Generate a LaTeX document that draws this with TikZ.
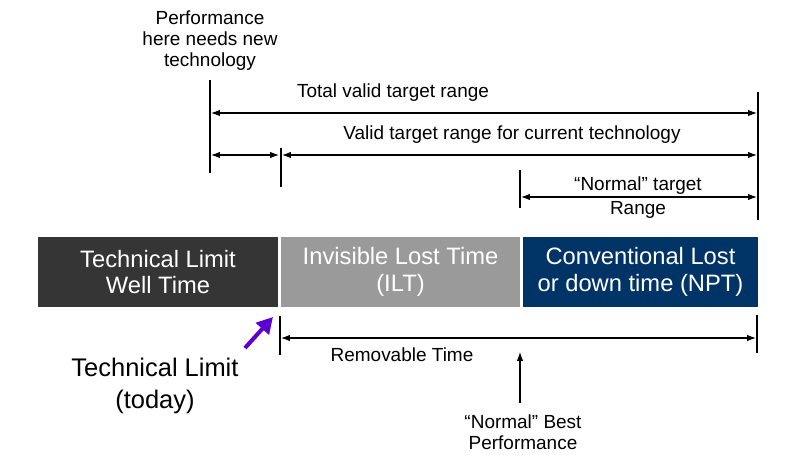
\documentclass[tikz,border=0pt]{standalone}
\usepackage{fontspec}
\setmainfont{Liberation Sans}
\usepackage{tikz}
\usetikzlibrary{positioning,arrows.meta}
\usepackage{xcolor}
\definecolor{welldark}{HTML}{353535}
\definecolor{iltgrey}{HTML}{9A9A9A}
\definecolor{nptblue}{HTML}{003466}
\definecolor{limitpurple}{HTML}{5A00D2}

\begin{document}
\begin{tikzpicture}[
  x=0.02cm, y=-0.02cm,
  bar/.style={rectangle, minimum height=1.4cm, inner sep=0pt, align=center, text=white, font=\fontsize{13.5}{15.3}\selectfont},
  lbl/.style={font=\fontsize{10.8}{12}\selectfont, align=center, inner sep=1pt},
  big/.style={font=\fontsize{14.5}{18}\selectfont, align=center, inner sep=1pt},
  tick/.style={line width=1.2pt},
  dim/.style={{Latex[length=1.8mm,width=1.3mm]}-{Latex[length=1.8mm,width=1.3mm]}, line width=0.6pt},
  up/.style={-{Latex[length=1.8mm,width=1.3mm]}, line width=0.6pt},
]
  \useasboundingbox (0,0) rectangle (806,455);

  % time bars
  \node[bar, fill=welldark, minimum width=4.8cm] (well) at (158,272) {Technical Limit\\Well Time};
  \node[bar, fill=iltgrey, minimum width=4.78cm] (ilt) at (400.5,272) {Invisible Lost Time\\(ILT)};
  \node[bar, fill=nptblue, minimum width=4.7cm] (npt) at (640.5,272) {Conventional Lost\\or down time (NPT)};

  % ticks
  \coordinate (newtop) at (210,80);  \coordinate (newbot) at (210,173);
  \coordinate (curtop) at (281,148); \coordinate (curbot) at (281,187);
  \coordinate (nrmtop) at (520,170); \coordinate (nrmbot) at (520,208);
  \coordinate (endtop) at (758,92);  \coordinate (endbot) at (758,220);
  \coordinate (remtop) at (280,316); \coordinate (rembot) at (280,355);
  \coordinate (rentop) at (757,315); \coordinate (renbot) at (757,353);
  \draw[tick] (newtop) -- (newbot);
  \draw[tick] (curtop) -- (curbot);
  \draw[tick] (nrmtop) -- (nrmbot);
  \draw[tick] (endtop) -- (endbot);
  \draw[tick] (remtop) -- (rembot);
  \draw[tick] (rentop) -- (renbot);

  % arrow ends
  \coordinate (tot1) at (211,113); \coordinate (tot2) at (757,113);
  \coordinate (gap1) at (211,155); \coordinate (gap2) at (279,155);
  \coordinate (val1) at (282,155); \coordinate (val2) at (757,155);
  \coordinate (nrm1) at (521,197); \coordinate (nrm2) at (757,197);
  \coordinate (rem1) at (281,338); \coordinate (rem2) at (756,338);
  \coordinate (best1) at (520,403); \coordinate (best2) at (520,352);
  \coordinate (lim1) at (245,348); \coordinate (lim2) at (273,317);

  \draw[dim] (tot1) -- (tot2);
  \draw[dim] (gap1) -- (gap2);
  \draw[dim] (val1) -- (val2);
  \draw[dim] (nrm1) -- (nrm2);
  \draw[dim] (rem1) -- (rem2);
  \draw[up] (best1) -- (best2);
  \draw[-{Triangle[length=3.2mm,width=3.4mm]}, line width=2.3pt, limitpurple] (lim1) -- (lim2);

  % labels
  \node[lbl] (newtech) at (210,41) {Performance\\here needs new\\technology};
  \node[lbl] (total) at (393,93) {Total valid target range};
  \node[lbl] (valid) at (512,135) {Valid target range for current technology};
  \node[lbl] (normal) at (638,186) {“Normal” target};
  \node[lbl] (range) at (638,210) {Range};
  \node[lbl] (removable) at (402,355) {Removable Time};
  \node[lbl] (best) at (523,432) {“Normal” Best\\Performance};
  \node[big] (today) at (155,386) {Technical Limit\\(today)};
\end{tikzpicture}
\end{document}
